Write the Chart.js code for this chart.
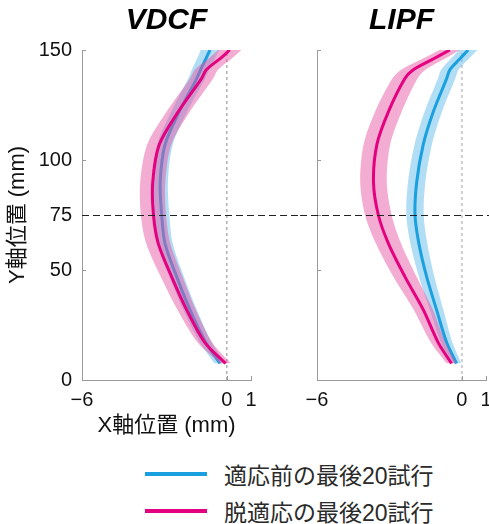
<!DOCTYPE html>
<html lang="ja">
<head>
<meta charset="utf-8">
<title>VDCF / LIPF</title>
<script src="https://cdn.jsdelivr.net/npm/chart.js@4.4.1/dist/chart.umd.min.js"></script>
<style>
  html, body { margin: 0; padding: 0; background: #fff; overflow: hidden; }
  #wrap { position: relative; width: 489px; height: 524px; }
  #leftChart { position: absolute; left: 0; top: 0; }
  #rightChart { position: absolute; left: 300px; top: 0; }
  .legend-row {
    position: absolute; left: 145px; height: 30px; line-height: 30px;
    font: 23px "Liberation Sans", "Noto Sans CJK JP", sans-serif; color: #2a2a2a;
    display: flex; align-items: center; white-space: nowrap;
  }
  .legend-row .swatch { display: inline-block; width: 62px; height: 4px; margin-right: 17px; }
</style>
</head>
<body>
<div id="wrap">
  <canvas id="leftChart" width="300" height="445"></canvas>
  <canvas id="rightChart" width="189" height="445"></canvas>
  <div class="legend-row" style="top: 459px;"><span class="swatch" style="background:#1a9fdf"></span>適応前の最後20試行</div>
  <div class="legend-row" style="top: 496px;"><span class="swatch" style="background:#e4007f"></span>脱適応の最後20試行</div>
</div>
<script>
// Y positions (mm) where the mean trajectories are sampled
const yPos = [7.5, 17, 32, 47, 62, 75, 90, 107, 122, 137, 141, 146, 150];

// VDCF: X position (mm), mean and spread
const vdcfPre = [-0.29, -0.87, -1.53, -2.08, -2.56, -2.70, -2.76, -2.56, -1.97, -1.25, -1.09, -0.87, -0.70];
const vdcfPreSd = [0.22, 0.25, 0.28, 0.30, 0.32, 0.32, 0.32, 0.32, 0.33, 0.35, 0.36, 0.37, 0.38];
const vdcfPost = [-0.05, -0.91, -1.67, -2.29, -2.84, -3.04, -3.07, -2.80, -2.01, -1.05, -0.85, -0.29, 0.12];
const vdcfPostSd = [0.22, 0.30, 0.38, 0.45, 0.50, 0.52, 0.52, 0.50, 0.48, 0.48, 0.48, 0.48, 0.48];

// LIPF: X position (mm), mean and spread
const lipfPre = [-0.22, -0.63, -1.05, -1.46, -1.78, -1.94, -1.87, -1.60, -1.18, -0.63, -0.50, -0.08, 0.26];
const lipfPreSd = [0.20, 0.24, 0.28, 0.32, 0.35, 0.36, 0.36, 0.36, 0.36, 0.36, 0.36, 0.37, 0.38];
const lipfPost = [-0.43, -0.98, -1.60, -2.36, -3.04, -3.46, -3.66, -3.52, -3.04, -2.36, -2.01, -1.17, -0.50];
const lipfPostSd = [0.20, 0.30, 0.40, 0.48, 0.52, 0.55, 0.55, 0.55, 0.55, 0.52, 0.50, 0.46, 0.42];

// axis ticks and reference lines
const xTicks = [-6, 0, 1];
const yTicks = [0, 50, 75, 100, 150];
const xRange = [-6, 1];
const yRange = [0, 150];
const refY = 75;

const blue = '#1a9fdf';
const blueBand = 'rgba(100, 190, 235, 0.5)';
const magenta = '#e4007f';
const pinkBand = 'rgba(232, 90, 165, 0.5)';
const axisColor = '#9a9a9a';
const fontFamily = '"Liberation Sans", "Noto Sans CJK JP", Arial, sans-serif';

function toPoints(values) {
  return yPos.map((y, i) => ({ x: values[i], y }));
}

function bandEdge(values, spread, sign) {
  return yPos.map((y, i) => ({ x: values[i] + sign * spread[i], y }));
}

function minusLabel(v) {
  return v < 0 ? '\u2212' + Math.abs(v) : String(v);
}

// inward tick marks and the dashed line at y = 75
const overlay = {
  id: 'overlay',
  afterDatasetsDraw(chart, args, opts) {
    const { ctx, chartArea, scales: { x, y } } = chart;
    ctx.save();
    ctx.strokeStyle = axisColor;
    ctx.lineWidth = 1;
    y.ticks.forEach((t) => {
      const py = Math.round(y.getPixelForValue(t.value)) + 0.5;
      ctx.beginPath();
      ctx.moveTo(chartArea.left, py);
      ctx.lineTo(chartArea.left + 4, py);
      ctx.stroke();
    });
    x.ticks.forEach((t) => {
      const px = Math.round(x.getPixelForValue(t.value)) + 0.5;
      ctx.beginPath();
      ctx.moveTo(px, chartArea.bottom);
      ctx.lineTo(px, chartArea.bottom - 4);
      ctx.stroke();
    });
    const py = Math.round(y.getPixelForValue(refY)) + 0.5;
    ctx.strokeStyle = '#222';
    ctx.setLineDash([7, 4]);
    ctx.beginPath();
    ctx.moveTo(opts.fromAxis ? chartArea.left : 0, py);
    ctx.lineTo(chart.width, py);
    ctx.stroke();
    ctx.restore();
  },
};

function panelDatasets(pre, preSd, post, postSd, zeroStyle) {
  const line = { borderWidth: 0, borderColor: 'transparent', pointRadius: 0 };
  return [
    {
      data: [{ x: 0, y: yRange[0] }, { x: 0, y: yRange[1] }],
      borderColor: zeroStyle.color, borderWidth: zeroStyle.width, borderDash: zeroStyle.dash,
      pointRadius: 0, tension: 0, order: 10,
    },
    { ...line, data: bandEdge(pre, preSd, -1), order: 9 },
    { ...line, data: bandEdge(pre, preSd, 1), fill: '-1', backgroundColor: blueBand, order: 9 },
    { data: toPoints(pre), borderColor: blue, borderWidth: 3, pointRadius: 0, order: 8 },
    { ...line, data: bandEdge(post, postSd, -1), order: 7 },
    { ...line, data: bandEdge(post, postSd, 1), fill: '-1', backgroundColor: pinkBand, order: 7 },
    { data: toPoints(post), borderColor: magenta, borderWidth: 3, pointRadius: 0, order: 6 },
  ];
}

function panelConfig(title, datasets, opts) {
  return {
    type: 'line',
    data: { datasets },
    plugins: [overlay],
    options: {
      responsive: false,
      animation: false,
      indexAxis: 'y',
      layout: { padding: { left: 0, right: opts.padRight, top: 0, bottom: 0 } },
      elements: { line: { tension: 0.3 } },
      plugins: {
        legend: { display: false },
        tooltip: { enabled: false },
        overlay: { fromAxis: opts.fromAxis },
        title: {
          display: true,
          text: title,
          fullSize: false,
          color: '#000',
          font: { family: fontFamily, size: 30, weight: 'bold', style: 'italic', lineHeight: 1.2 },
          padding: { top: 3, bottom: 11 },
        },
      },
      scales: {
        x: {
          type: 'linear',
          min: xRange[0],
          max: xRange[1],
          afterBuildTicks: (s) => { s.ticks = xTicks.map((v) => ({ value: v })); },
          afterFit: (s) => { s.height = 65; s.paddingLeft = 0; s.paddingRight = 0; },
          grid: { display: false, drawTicks: false },
          border: { color: axisColor, width: 1 },
          ticks: {
            callback: minusLabel, autoSkip: false, maxRotation: 0, padding: 8,
            color: '#111', font: { family: fontFamily, size: 20 },
          },
          title: {
            display: opts.showXTitle,
            text: 'X軸位置 (mm)',
            color: '#111',
            font: { family: fontFamily, size: 22 },
            padding: { top: 0, bottom: 6 },
          },
        },
        y: {
          type: 'linear',
          min: yRange[0],
          max: yRange[1],
          afterBuildTicks: (s) => { s.ticks = yTicks.map((v) => ({ value: v })); },
          afterFit: (s) => { s.width = opts.yWidth; s.paddingTop = 0; s.paddingBottom = 0; },
          grid: { display: false, drawTicks: false },
          border: { color: axisColor, width: 1 },
          ticks: {
            display: opts.showYLabels, autoSkip: false, padding: 10,
            color: '#111', font: { family: fontFamily, size: 20 },
          },
          title: {
            display: opts.showYLabels,
            text: 'Y軸位置 (mm)',
            color: '#111',
            font: { family: fontFamily, size: 22 },
            padding: { top: 5, bottom: 0 },
          },
        },
      },
    },
  };
}

new Chart(document.getElementById('leftChart'), panelConfig(
  'VDCF',
  panelDatasets(vdcfPre, vdcfPreSd, vdcfPost, vdcfPostSd, { color: '#8a8a8a', width: 1, dash: [3, 3] }),
  { padRight: 49, yWidth: 82, showXTitle: true, showYLabels: true, fromAxis: true }
));

new Chart(document.getElementById('rightChart'), panelConfig(
  'LIPF',
  panelDatasets(lipfPre, lipfPreSd, lipfPost, lipfPostSd, { color: '#cfcfcf', width: 2, dash: [3, 3] }),
  { padRight: 3, yWidth: 17, showXTitle: false, showYLabels: false, fromAxis: false }
));
</script>
</body>
</html>
